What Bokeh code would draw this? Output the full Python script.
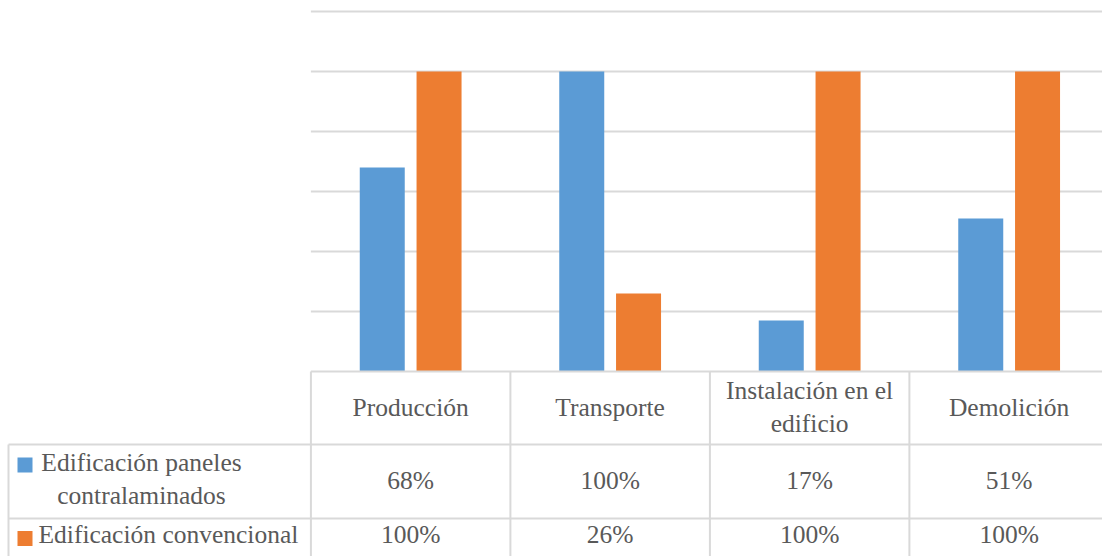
from bokeh.plotting import figure
from bokeh.models import Range1d
from bokeh.embed import file_html
from bokeh.resources import INLINE
from bokeh.core.properties import value

# ---- data -----------------------------------------------------------------
categories = ["Producción", "Transporte", "Instalación en el\nedificio", "Demolición"]
series_names = ["Edificación paneles\ncontralaminados", "Edificación convencional"]
paneles = [68, 100, 17, 51]
convencional = [100, 26, 100, 100]
grid_values = [20, 40, 60, 80, 100, 120]

# ---- style ----------------------------------------------------------------
BLUE = "#5B9BD5"
ORANGE = "#ED7D31"
GRID = "#D9D9D9"
TEXT = "#595959"
FONT = "Liberation Serif"
FONT_SIZE = "25.5px"

W, H = 1102, 556

# page geometry (pixels) used to place the frame and the data table
CAT_PX = 199.5      # width of one category slot
X0_PX = 410.15      # centre of the first category
BASE_PX = 371       # vertical position of value 0
PX_PER_UNIT = 3.0   # pixels per percentage point
LINE_PX = 33        # distance between wrapped text lines
TEXT_LIFT = 9       # correction between requested and drawn text baseline


def xd(px):
    return (px - X0_PX) / CAT_PX


def yd(py):
    return (BASE_PX - py) / PX_PER_UNIT


def yt(py):
    # vertical data position for a text baseline at pixel row py
    return yd(py - TEXT_LIFT)


p = figure(width=W, height=H, output_backend="svg", toolbar_location=None,
           x_range=Range1d(xd(0), xd(W)), y_range=Range1d(yd(H), yd(0)),
           x_axis_type=None, y_axis_type=None, min_border=0,
           outline_line_color=None, background_fill_color="white",
           border_fill_color="white")
p.grid.visible = False

n = len(categories)
x_right = xd(W + 10)

# horizontal gridlines of the plot area
p.segment(x0=[-0.5] * len(grid_values), x1=[x_right] * len(grid_values),
          y0=grid_values, y1=grid_values, line_color=GRID, line_width=2)

# clustered bars
bar_w = 45 / CAT_PX
off = 28.4 / CAT_PX
xs = list(range(n))
p.vbar(x=[i - off for i in xs], top=paneles, bottom=0, width=bar_w,
       fill_color=BLUE, line_color=None)
p.vbar(x=[i + off for i in xs], top=convencional, bottom=0, width=bar_w,
       fill_color=ORANGE, line_color=None)

# data table borders
y_row1 = yd(444)
y_row2 = yd(518)
y_bot = yd(H + 10)
x_left = xd(8)
hx0 = [-0.5, x_left, x_left]
hy = [0, y_row1, y_row2]
p.segment(x0=hx0, x1=[x_right] * 3, y0=hy, y1=hy, line_color=GRID, line_width=2)
vx = [x_left] + [i - 0.5 for i in range(n)]
vy0 = [y_row1] + [0] * n
p.segment(x0=vx, x1=vx, y0=vy0, y1=[y_bot] * len(vx), line_color=GRID, line_width=2)


def add_text(xs_, ys_, texts, align="center"):
    p.text(x=xs_, y=ys_, text=texts, text_align=align, text_baseline="alphabetic",
           text_font=value(FONT), text_font_size=FONT_SIZE, text_color=TEXT)


# category headers (wrapped labels split into lines)
hx, hy_, ht = [], [], []
for i, lab in enumerate(categories):
    lines = lab.split("\n")
    k = len(lines)
    for j, ln in enumerate(lines):
        hx.append(i)
        hy_.append(yt(415.5 + (j - (k - 1) / 2) * LINE_PX))
        ht.append(ln)
add_text(hx, hy_, ht)

# values in the table rows
add_text(xs, [yt(488.5)] * n, [f"{v}%" for v in paneles])
add_text(xs, [yt(543)] * n, [f"{v}%" for v in convencional])

# row headers with legend keys
row1_lines = series_names[0].split("\n")
add_text([xd(141)] * len(row1_lines),
         [yt(470.7 + j * LINE_PX) for j in range(len(row1_lines))], row1_lines)
add_text([xd(38)], [yt(543)], [series_names[1]], align="left")

key = 15
p.rect(x=[xd(24.5)], y=[yd(464.4)], width=key / CAT_PX, height=key / PX_PER_UNIT,
       fill_color=BLUE, line_color=None)
p.rect(x=[xd(24.5)], y=[yd(538)], width=key / CAT_PX, height=key / PX_PER_UNIT,
       fill_color=ORANGE, line_color=None)

open("out.html", "w").write(file_html(p, INLINE))
